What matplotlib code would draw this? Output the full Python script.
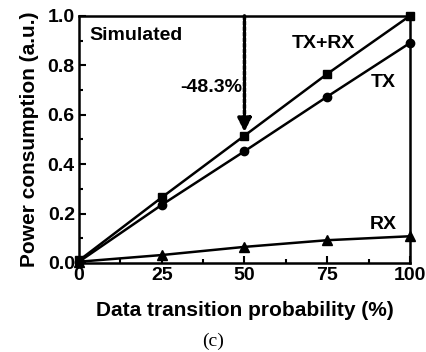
import matplotlib
matplotlib.use("Agg")
import matplotlib.pyplot as plt
from matplotlib.ticker import MultipleLocator

plt.rcParams['font.family'] = ['Liberation Sans', 'DejaVu Sans']
plt.rcParams['font.weight'] = 'bold'

# datos
prob = [0, 25, 50, 75, 100]
txrx = [0.01, 0.265, 0.515, 0.765, 1.0]
tx = [0.005, 0.235, 0.452, 0.673, 0.89]
rx = [0.005, 0.032, 0.065, 0.092, 0.108]

fig = plt.figure(figsize=(4.27, 3.52), dpi=100)
ax = fig.add_axes([0.185, 0.253, 0.775, 0.702])

ax.plot(prob, txrx, color='black', lw=1.8, marker='s', ms=6, clip_on=False)
ax.plot(prob, tx, color='black', lw=1.8, marker='o', ms=6, clip_on=False)
ax.plot(prob, rx, color='black', lw=1.8, marker='^', ms=6.5, clip_on=False)

# flecha punteada en 50%
ax.annotate('', xy=(50, 0.53), xytext=(50, 1.0),
            arrowprops=dict(arrowstyle='-|>', linestyle=(0, (1.0, 0.6)), lw=2.5,
                            color='black', mutation_scale=20, shrinkA=0, shrinkB=0))
ax.text(49.2, 0.71, '-48.3%', ha='right', va='center', fontsize=14, fontweight='bold')
ax.text(3, 0.922, 'Simulated', ha='left', va='center', fontsize=14, fontweight='bold')
ax.text(74, 0.89, 'TX+RX', ha='center', va='center', fontsize=14, fontweight='bold')
ax.text(92, 0.73, 'TX', ha='center', va='center', fontsize=14, fontweight='bold')
ax.text(92, 0.155, 'RX', ha='center', va='center', fontsize=14, fontweight='bold')

ax.set_xlim(0, 100)
ax.set_ylim(0, 1.0)
ax.xaxis.set_major_locator(MultipleLocator(25))
ax.xaxis.set_minor_locator(MultipleLocator(12.5))
ax.yaxis.set_major_locator(MultipleLocator(0.2))
ax.yaxis.set_minor_locator(MultipleLocator(0.1))
ax.yaxis.set_major_formatter(plt.FormatStrFormatter('%.1f'))
ax.tick_params(which='both', direction='in', width=1.5, labelsize=14, pad=3)
ax.tick_params(which='major', length=5)
ax.tick_params(which='minor', length=3)
for s in ax.spines.values():
    s.set_linewidth(1.8)

ax.set_xlabel('Data transition probability (%)', fontsize=15, fontweight='bold', labelpad=12)
ax.set_ylabel('Power consumption (a.u.)', fontsize=15, fontweight='bold', labelpad=6)

fig.text(0.5, 0.03, '(c)', ha='center', va='center', fontsize=14,
         family=['Liberation Serif', 'DejaVu Serif'], fontweight='normal')

fig.savefig('out.png', dpi=100)
